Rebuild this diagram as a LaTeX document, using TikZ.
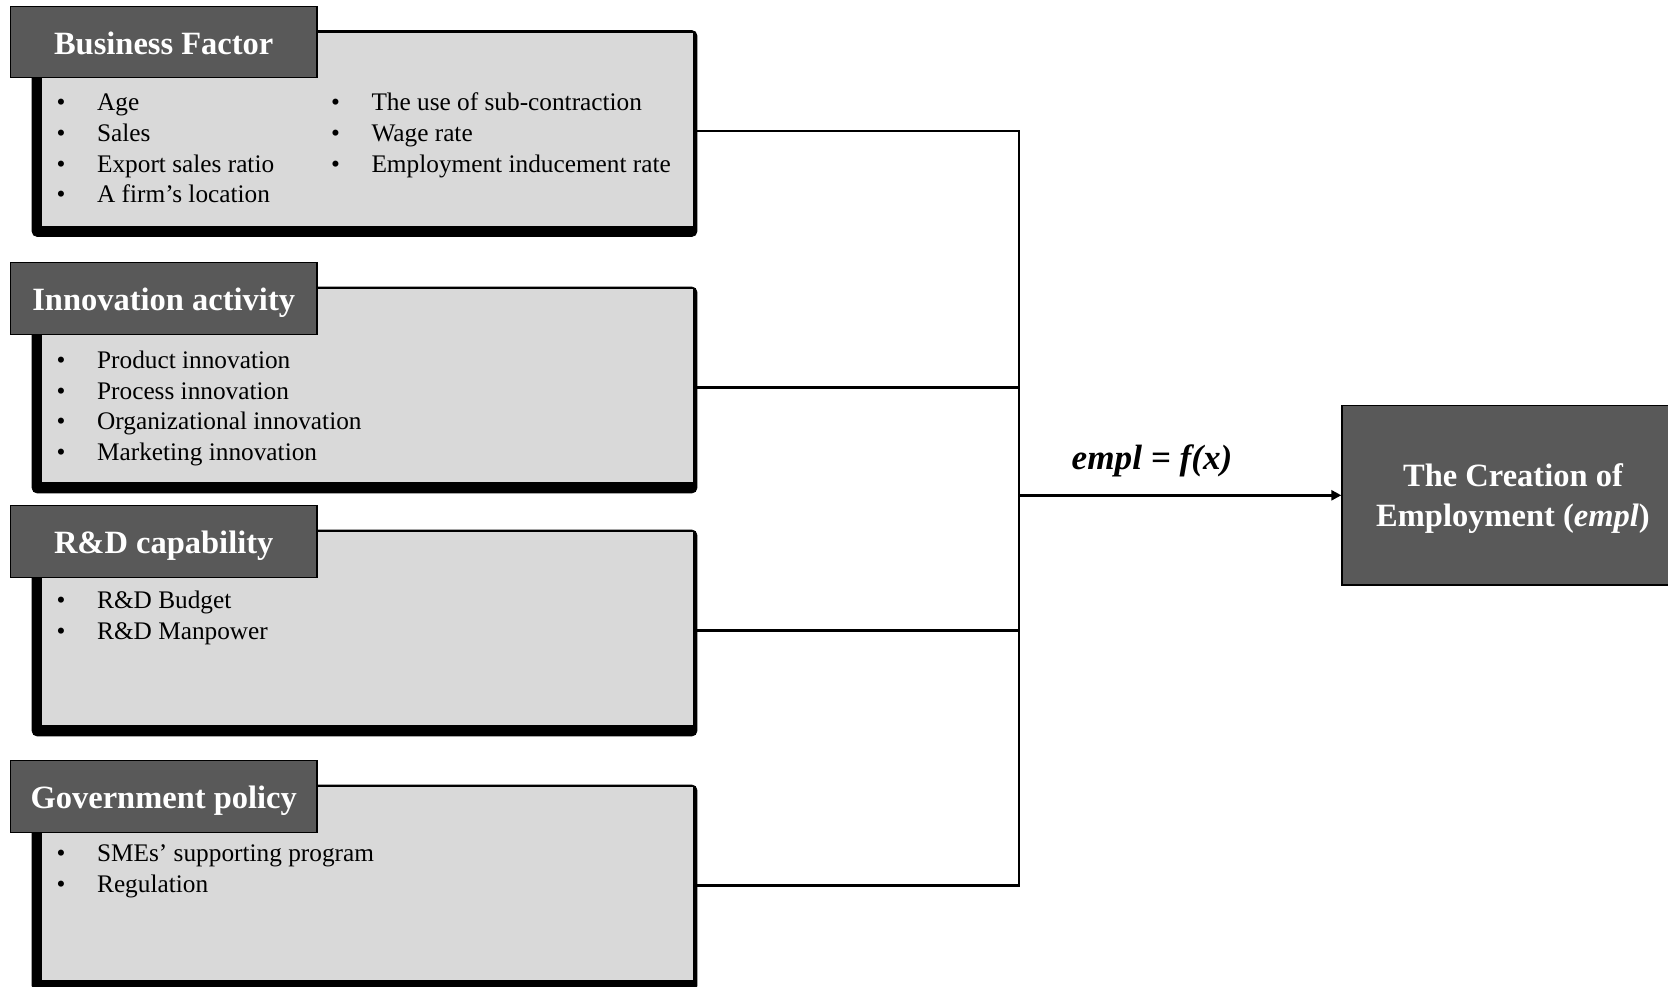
\documentclass[tikz,border=0pt]{standalone}
\usepackage{fontspec}
\setmainfont{Liberation Serif}
\usetikzlibrary{arrows.meta,calc}
\definecolor{headgray}{RGB}{89,89,89}
\definecolor{panelgray}{RGB}{217,217,217}
\tikzset{
  panel/.style={draw=black, fill=black, rounded corners=0.1cm, minimum width=13.3cm, minimum height=4.12cm, inner sep=0pt},
  head/.style={draw=black, line width=0.8pt, fill=headgray, text=white, minimum width=6.14cm, minimum height=1.43cm,
    inner sep=0pt, text height=14pt, text depth=0pt, font=\fontsize{18.5}{22}\selectfont\bfseries},
  item/.style={anchor=west, inner sep=0pt, text height=10pt, text depth=3pt, font=\fontsize{14.4}{17}\selectfont},
  result/.style={draw=black, line width=0.8pt, fill=headgray, text=white, minimum width=6.84cm, minimum height=3.59cm,
    align=center, text depth=0pt, font=\fontsize{18.5}{22.8}\selectfont\bfseries},
  link/.style={line width=1.5pt},
}
\newcommand{\itm}[1]{\makebox[0.81cm][l]{\textbullet}#1}

\begin{document}
\begin{tikzpicture}[x=0.02cm, y=-0.02cm]
  \clip (0,0) rectangle (1668,987);
  % factor panels with their headings
  \foreach \nm/\y/\ttl in {bf/133.5/Business Factor, ia/390/Innovation activity, rd/633/R\&D capability, gp/888/Government policy} {
    \node[panel] (\nm) at (364.5,\y) {};
    \fill[panelgray] ($(\nm.north west)+(10,2.5)$) rectangle ($(\nm.south east)+(-4,-11)$);
    \node[head] (\nm-head) at (163.7,\y-91.5) {\ttl};
  }
  % items
  \foreach \t [count=\i] in {Age, Sales, Export sales ratio, A firm’s location}
    \node[item] (bf-a\i) at (56.3,74.2+30.6*\i) {\itm{\t}};
  \foreach \t [count=\i] in {The use of sub-contraction, Wage rate, Employment inducement rate}
    \node[item] (bf-b\i) at (330.7,74.2+30.6*\i) {\itm{\t}};
  \foreach \t [count=\i] in {Product innovation, Process innovation, Organizational innovation, Marketing innovation}
    \node[item] (ia-a\i) at (56.3,332+30.6*\i) {\itm{\t}};
  \foreach \t [count=\i] in {R\&D Budget, R\&D Manpower}
    \node[item] (rd-a\i) at (56.3,571.9+30.6*\i) {\itm{\t}};
  \foreach \t [count=\i] in {SMEs’ supporting program, Regulation}
    \node[item] (gp-a\i) at (56.3,824.9+30.6*\i) {\itm{\t}};
  % joining lines
  \coordinate (jn) at (1019,495.3);
  \draw[link] ([yshift=1.4pt]bf.east) -- ([yshift=1.4pt]bf.east -| jn) -- ([yshift=1.4pt]gp.east -| jn) -- ([yshift=1.4pt]gp.east);
  \draw[link] ([yshift=1.4pt]ia.east) -- ([yshift=1.4pt]ia.east -| jn);
  \draw[link] ([yshift=1.4pt]rd.east) -- ([yshift=1.4pt]rd.east -| jn);
  \node[result] (emp) at (1513,495.3) {The Creation of\\Employment (\textit{empl})};
  \draw[link, -{Triangle[length=0.2cm, width=0.2cm]}] (jn) -- (emp.west);
  \node[font=\fontsize{20}{24}\selectfont\bfseries\itshape] (eq) at (1152,461) {empl = f(x)};
\end{tikzpicture}
\end{document}
